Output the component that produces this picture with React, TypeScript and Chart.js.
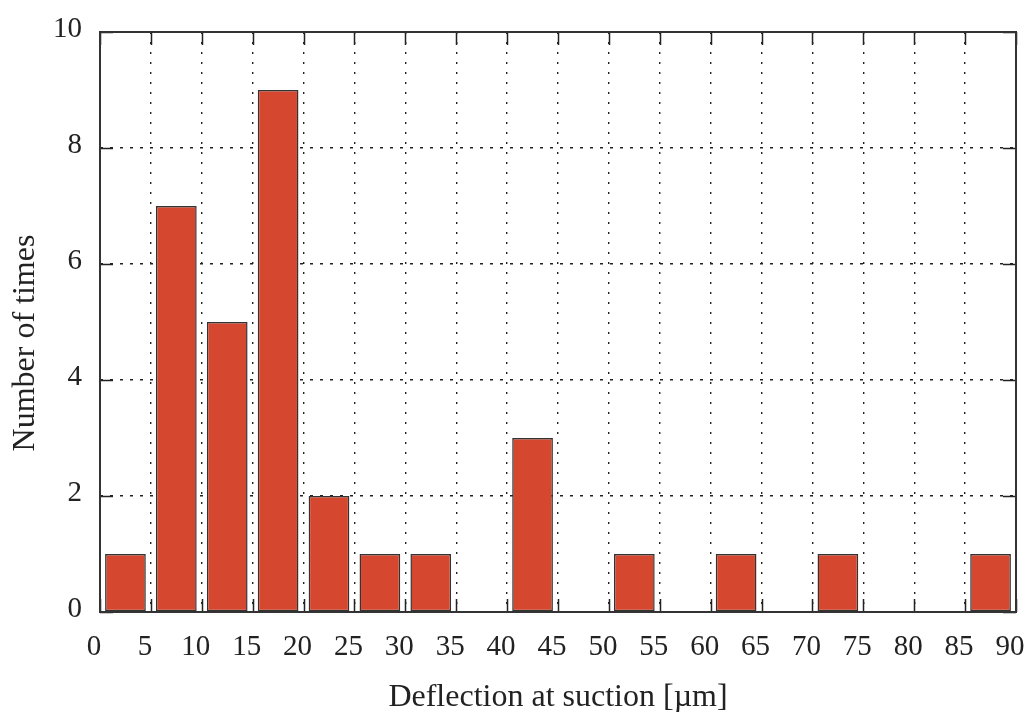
import React, { useEffect, useRef } from "react";
import { Chart, registerables } from "chart.js";

Chart.register(...registerables);

const binLabels = ["0-5", "5-10", "10-15", "15-20", "20-25", "25-30", "30-35", "35-40", "40-45", "45-50", "50-55", "55-60", "60-65", "65-70", "70-75", "75-80", "80-85", "85-90"];
const counts = [1, 7, 5, 9, 2, 1, 1, 0, 3, 0, 1, 0, 1, 0, 1, 0, 0, 1];
const xMin = 0;
const xMax = 90;
const xStep = 5;
const yMin = 0;
const yMax = 10;
const yStep = 2;
const xTitle = "Deflection at suction [µm]";
const yTitle = "Number of times";

const FONT = "'Liberation Serif', 'DejaVu Serif', serif";
const INK = "#222222";

const frameTicks = {
  id: "frameTicks",
  afterDraw(chart: any) {
    const { ctx, chartArea: a, scales } = chart;
    const xs = scales.xTicks;
    const ys = scales.y;
    const L = 13;
    ctx.save();
    ctx.strokeStyle = INK;
    ctx.lineWidth = 1.5;
    ctx.beginPath();
    xs.ticks.forEach((t: any) => {
      const px = Math.round(xs.getPixelForValue(t.value)) + 0.5;
      ctx.moveTo(px, a.bottom);
      ctx.lineTo(px, a.bottom - L);
      ctx.moveTo(px, a.top);
      ctx.lineTo(px, a.top + L);
    });
    ys.ticks.forEach((t: any) => {
      const py = Math.round(ys.getPixelForValue(t.value)) + 0.5;
      ctx.moveTo(a.left, py);
      ctx.lineTo(a.left + L, py);
      ctx.moveTo(a.right, py);
      ctx.lineTo(a.right - L, py);
    });
    ctx.stroke();
    ctx.lineWidth = 2;
    ctx.strokeStyle = "#333333";
    ctx.strokeRect(a.left, a.top, a.right - a.left, a.bottom - a.top);

    // y axis title
    ctx.fillStyle = INK;
    ctx.font = `32px ${FONT}`;
    ctx.textAlign = "center";
    ctx.textBaseline = "alphabetic";
    ctx.translate(34, (a.top + a.bottom) / 2 + 21);
    ctx.rotate(-Math.PI / 2);
    ctx.fillText(yTitle, 0, 0);
    ctx.restore();
  },
};

export default function App() {
  const ref = useRef<HTMLCanvasElement>(null);
  useEffect(() => {
    document.body.style.margin = "0";
    const chart = new Chart(ref.current as HTMLCanvasElement, {
      type: "bar",
      data: {
        labels: binLabels,
        datasets: [
          {
            data: counts,
            backgroundColor: "#d5472f",
            borderColor: "#333333",
            borderWidth: (c: any) => (c.raw === 0 ? 0 : 1.5),
            borderSkipped: false,
            barPercentage: 0.8,
            categoryPercentage: 1,
            xAxisID: "x",
            yAxisID: "y",
          },
        ],
      },
      options: {
        animation: false,
        responsive: false,
        maintainAspectRatio: false,
        layout: { padding: { top: 32, right: 11, left: 0, bottom: 0 } },
        plugins: { legend: { display: false }, tooltip: { enabled: false } },
        scales: {
          x: { type: "category", display: false, offset: true, grid: { display: false } },
          xTicks: {
            type: "linear",
            position: "bottom",
            offset: false,
            min: xMin,
            max: xMax,
            afterFit: (s: any) => {
              s.height = 100;
              s.paddingLeft = 0;
              s.paddingRight = 0;
            },
            ticks: {
              stepSize: xStep,
              autoSkip: false,
              maxRotation: 0,
              padding: 18,
              labelOffset: -6,
              color: INK,
              font: { family: FONT, size: 29 },
            },
            grid: { color: INK, lineWidth: 1.4, drawTicks: false, offset: false },
            border: { display: false, dash: [2, 8] },
            title: {
              display: true,
              text: xTitle,
              color: INK,
              font: { family: FONT, size: 32 },
              padding: { top: 0, bottom: -5 },
            },
          },
          y: {
            type: "linear",
            position: "left",
            min: yMin,
            max: yMax,
            afterFit: (s: any) => {
              s.width = 100;
              s.paddingTop = 0;
              s.paddingBottom = 0;
            },
            ticks: {
              stepSize: yStep,
              padding: 18,
              labelOffset: -3,
              color: INK,
              font: { family: FONT, size: 29 },
            },
            grid: { color: INK, lineWidth: 1.4, drawTicks: false },
            border: { display: false, dash: [3, 7] },
            title: { display: false },
          },
        },
      },
      plugins: [frameTicks],
    } as any);
    return () => chart.destroy();
  }, []);
  return <canvas ref={ref} width={1027} height={712} style={{ display: "block", width: 1027, height: 712 }} />;
}
